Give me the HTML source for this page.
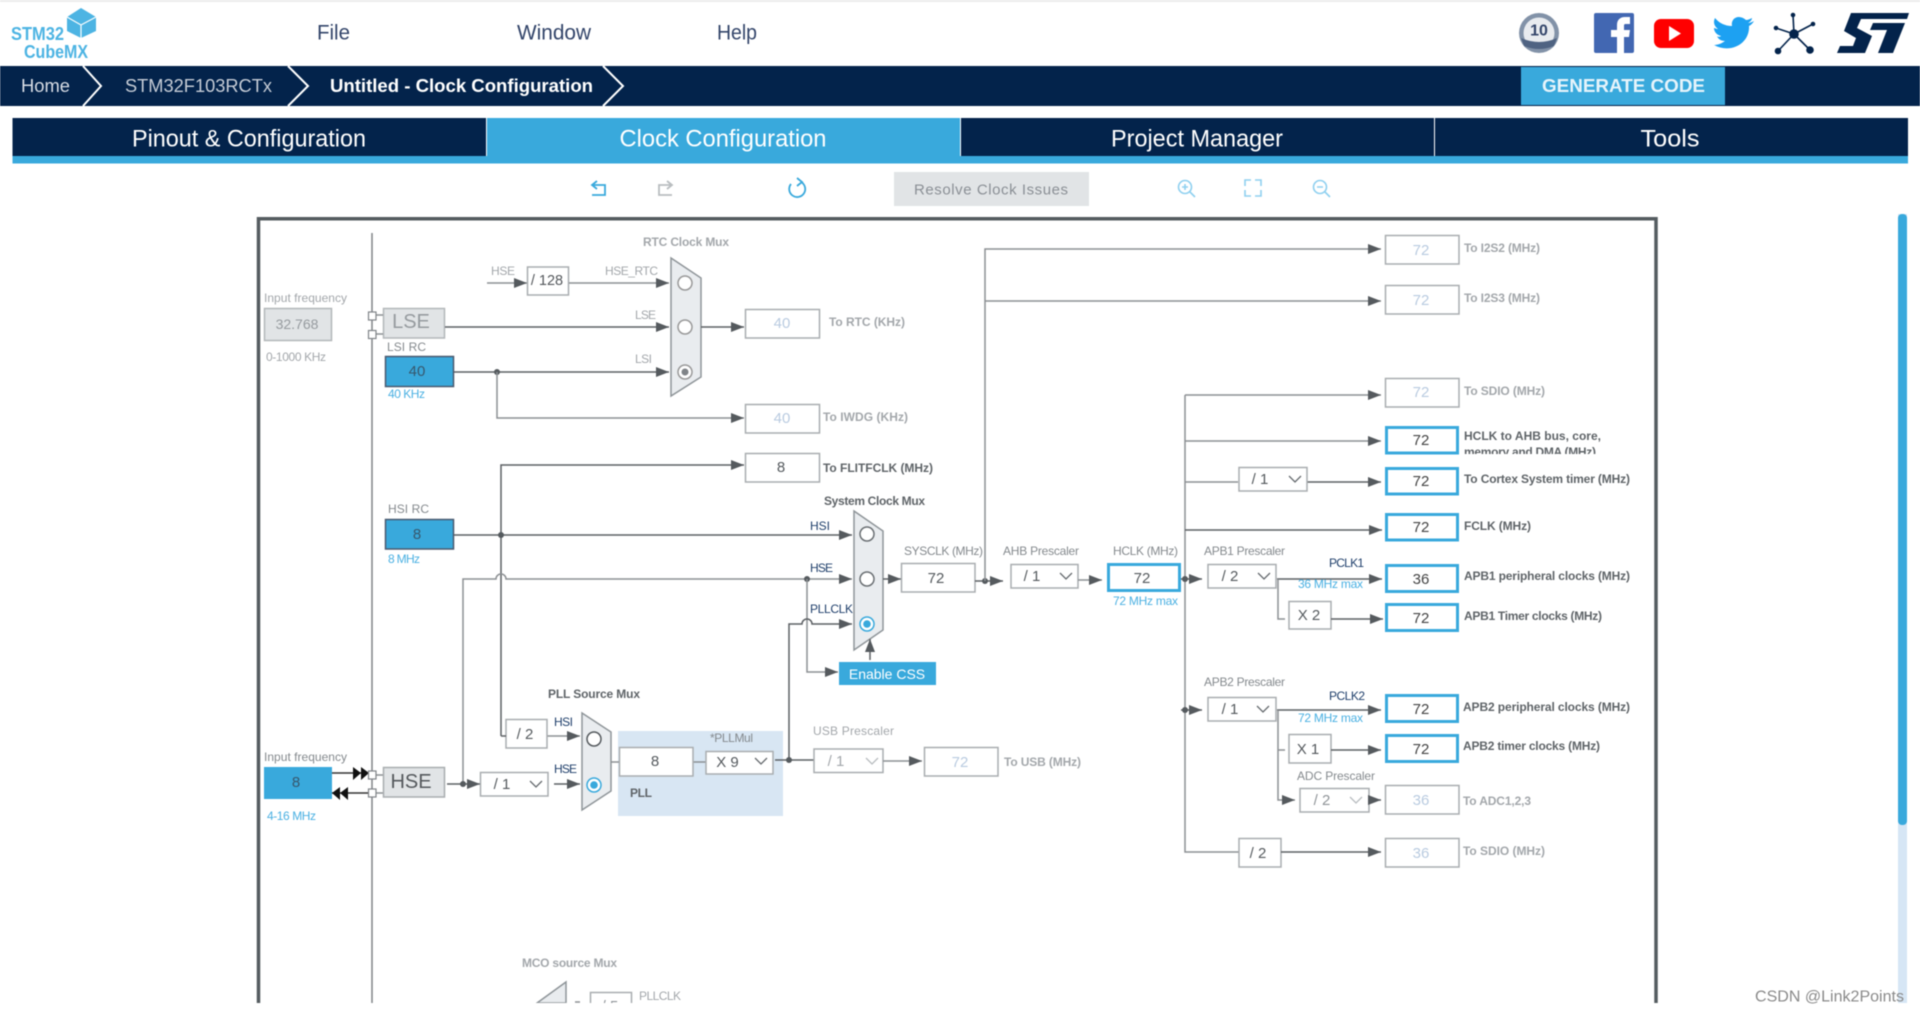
<!DOCTYPE html>
<html lang="en"><head><meta charset="utf-8"><title>STM32CubeMX Clock Configuration</title>
<style>
html,body{margin:0;padding:0;background:#fff;width:1920px;height:1013px;overflow:hidden}
svg{display:block;font-family:"Liberation Sans",Arial,sans-serif;filter:blur(.45px)}
text{dominant-baseline:central}
.l{font-size:12px;fill:#a3a7ab}
.lb{font-size:12px;fill:#a3a7ab;font-weight:bold}
.d{font-size:12px;fill:#5f6468;font-weight:bold}
.g{font-size:12px;fill:#858a8e}
.n{font-size:12px;fill:#1f3f6b}
.c{font-size:12px;fill:#4ab0e2}
.v{font-size:15px;fill:#555a5e;text-anchor:middle;transform:translateY(.7px)}
.o{font-size:15px;fill:#b9cbe0;text-anchor:middle;transform:translateY(.7px)}
.b{fill:#fff;stroke:#a9adb0;stroke-width:1.5}
.h{fill:#fff;stroke:#39a9dc;stroke-width:3}
.s{fill:#39a9dc;stroke:#4a5a70;stroke-width:1.5}
.w{fill:none;stroke:#8c9093;stroke-width:1.5}
.x{fill:none;stroke:#5c6064;stroke-width:1.5}
.m{fill:#e9ecef;stroke:#8f9599;stroke-width:1.5}
.r{fill:#fff;stroke:#7a7f83;stroke-width:1.5}
.ch{fill:none;stroke:#666b6f;stroke-width:1.3}
.dot{fill:#555a5e}
.t{font-size:24px;fill:#fff;text-anchor:middle}
.tb{fill:none;stroke:#8fd0f0;stroke-width:1.6}
</style></head><body>
<svg width="1920" height="1013" viewBox="0 0 1920 1013" xmlns="http://www.w3.org/2000/svg">
<defs>
<marker id="a" markerUnits="userSpaceOnUse" markerWidth="13" markerHeight="10" refX="13" refY="5" orient="auto"><path d="M0 0L13 5L0 10Z" fill="#555a5e"/></marker>
</defs>
<rect width="1920" height="1013" fill="#fff"/>
<rect width="1920" height="2" fill="#ececec"/>

<!-- Logo -->
<text x="11" y="34" font-size="18" font-weight="bold" fill="#4db4e3" textLength="53" lengthAdjust="spacingAndGlyphs">STM32</text>
<text x="24" y="52" font-size="18" font-weight="bold" fill="#4db4e3" textLength="64" lengthAdjust="spacingAndGlyphs">CubeMX</text>
<path d="M81 8L96 17V31L81 38L67 31V17Z" fill="#4db4e3"/>
<path d="M67 17L81 25L96 17M81 25V38" fill="none" stroke="#fff" stroke-width="1.2"/>

<!-- Menu -->
<text x="317" y="33" font-size="21" fill="#33456a" textLength="33" lengthAdjust="spacingAndGlyphs">File</text>
<text x="517" y="33" font-size="21" fill="#33456a" textLength="74" lengthAdjust="spacingAndGlyphs">Window</text>
<text x="717" y="33" font-size="21" fill="#33456a" textLength="40" lengthAdjust="spacingAndGlyphs">Help</text>

<!-- Icons -->
<circle cx="1539" cy="33" r="20" fill="#8292a8"/><circle cx="1539" cy="33" r="15.500" fill="#e8ebef"/>
<path d="M1521 38Q1539 46 1557 38L1554 46Q1539 52 1524 46Z" fill="#4f6382"/>
<text x="1539" y="31" font-size="16" font-weight="bold" fill="#33456a" text-anchor="middle">10</text>
<rect x="1594" y="13" width="40" height="40" rx="2" fill="#4267b2"/>
<path d="M1617 53V37H1611V30H1617V25C1617 20 1620 17 1625 17H1630V24H1626C1624 24 1624 25 1624 26V30H1630L1629 37H1624V53Z" fill="#fff"/>
<rect x="1654" y="19" width="40" height="29" rx="7" fill="#f00"/><path d="M1669 26L1681 33.500L1669 41Z" fill="#fff"/>
<path d="M1754 21C1752 22 1750 23 1748 23C1750 22 1752 20 1752 18C1750 19 1748 20 1746 20C1744 18 1741 17 1739 17C1734 17 1731 21 1732 26C1725 26 1719 23 1715 18C1713 22 1714 26 1718 29C1716 29 1715 28 1714 28C1714 32 1717 35 1721 36C1720 37 1718 37 1717 36C1718 39 1721 41 1725 41C1721 44 1717 45 1714 45C1730 54 1750 44 1749 26C1751 25 1753 23 1754 21Z" fill="#1da1f2"/>
<g stroke="#03234b" stroke-width="1.600" fill="#03234b"><path d="M1794 34L1793 15M1794 34L1813 24M1794 34L1810 50M1794 34L1778 51M1794 34L1776 28" fill="none"/><circle cx="1794" cy="34" r="4"/><circle cx="1793" cy="15" r="1.500"/><circle cx="1813" cy="24" r="1.500"/><circle cx="1810" cy="50" r="3"/><circle cx="1778" cy="51" r="2.500"/><circle cx="1776" cy="28" r="1.500"/></g>
<path d="M1851 13H1909L1907 19H1861L1857 28L1872 36L1865 53H1837L1840 46H1853L1856 38L1844 31ZM1873 23H1905L1893 53H1878L1887 30H1870Z" fill="#03234b"/>

<!-- Breadcrumb -->
<rect y="66" width="1920" height="40" fill="#03234b"/>
<path d="M83 66L101 86L83 106M288 66L308 86L288 106M603 66L623 86L603 106" fill="none" stroke="#fff" stroke-width="2"/>
<text x="21" y="86" font-size="18" fill="#d8dde5" textLength="49" lengthAdjust="spacingAndGlyphs">Home</text>
<text x="125" y="86" font-size="18" fill="#c5ccd6" textLength="147" lengthAdjust="spacingAndGlyphs">STM32F103RCTx</text>
<text x="330" y="86" font-size="18" font-weight="bold" fill="#fff" textLength="263" lengthAdjust="spacingAndGlyphs">Untitled - Clock Configuration</text>
<rect x="1521" y="67" width="204" height="38" fill="#39a9dc"/>
<text x="1542" y="86" font-size="18" font-weight="bold" fill="#e6f4fb" textLength="163" lengthAdjust="spacingAndGlyphs">GENERATE CODE</text>

<!-- Tabs -->
<rect x="12.500" y="118" width="1895.500" height="38" fill="#03234b"/>
<rect x="486" y="118" width="474" height="38" fill="#39a9dc"/>
<rect x="12.500" y="156" width="1895.500" height="7.500" fill="#39a9dc"/>
<rect x="486" y="118" width="1" height="38" fill="#fff"/><rect x="960" y="118" width="1" height="38" fill="#fff"/><rect x="1434" y="118" width="1" height="38" fill="#fff"/>
<text class="t" x="249" y="139" textLength="234" lengthAdjust="spacingAndGlyphs">Pinout &amp; Configuration</text>
<text class="t" x="723" y="139" textLength="207" lengthAdjust="spacingAndGlyphs">Clock Configuration</text>
<text class="t" x="1197" y="139" textLength="172" lengthAdjust="spacingAndGlyphs">Project Manager</text>
<text class="t" x="1670" y="139" textLength="59" lengthAdjust="spacingAndGlyphs">Tools</text>

<!-- Toolbar -->
<path d="M592 195H605V185H593M597 181L592 185L597 189" fill="none" stroke="#39a9dc" stroke-width="1.800"/>
<path d="M672 195H659V185H671M667 181L672 185L667 189" fill="none" stroke="#b9bdc0" stroke-width="1.800"/>
<path d="M791 184A8 8 0 1 0 801 182M797 178L802 182L797 186" fill="none" stroke="#39a9dc" stroke-width="1.800"/>
<rect x="894" y="172" width="195" height="34" fill="#e1e4e6"/>
<text x="914" y="190" font-size="15" fill="#8a8f95" textLength="154">Resolve Clock Issues</text>
<circle cx="1185" cy="187" r="6.500" class="tb"/><path d="M1190 192L1195 197M1182 187H1188M1185 184V190" class="tb"/>
<path d="M1245 186V180H1251M1255 180H1261V186M1261 190V196H1255M1251 196H1245V190" class="tb"/>
<circle cx="1320" cy="187" r="6.500" class="tb"/><path d="M1325 192L1330 197M1317 187H1323" class="tb"/>

<!-- Scrollbar -->
<rect x="1898" y="214" width="9" height="789" fill="#d6e6f5"/>
<rect x="1898" y="214" width="9" height="611" rx="4" fill="#39a9dc"/>

<!-- Frame and main rail -->
<path d="M258.500 1003V218.700H1656V1003" fill="none" stroke="#555c60" stroke-width="3.500"/>
<path d="M372 233V1003" fill="none" stroke="#808488" stroke-width="1.500"/>

<!-- Left inputs -->
<text class="l" x="264" y="298" textLength="83">Input frequency</text>
<rect x="264.500" y="308.500" width="67" height="32" fill="#e1e4e6" stroke="#b3b7ba" stroke-width="1.500"/>
<text x="297" y="324" font-size="14" fill="#969b9f" text-anchor="middle">32.768</text>
<text class="l" x="266" y="357" textLength="60">0-1000 KHz</text>
<rect x="383.500" y="308.500" width="61" height="29.500" fill="#e1e4e6" stroke="#b3b7ba" stroke-width="1.500"/>
<text x="411" y="322" font-size="20" fill="#969b9f" text-anchor="middle">LSE</text>
<path d="M376 315H383M376 334H383" class="w"/>
<rect x="368.500" y="312" width="7.500" height="8" fill="#fff" stroke="#808488" stroke-width="1.200"/>
<rect x="368.500" y="330.500" width="7.500" height="8" fill="#fff" stroke="#808488" stroke-width="1.200"/>
<text class="g" x="387" y="347" textLength="39">LSI RC</text>
<rect class="s" x="385.500" y="356.500" width="68" height="30"/>
<text class="v" x="417" y="371" style="fill:#37586e">40</text>
<text class="c" x="388" y="394" textLength="37">40 KHz</text>
<text class="g" x="388" y="509" textLength="41">HSI RC</text>
<rect class="s" x="385.500" y="519.500" width="68" height="29.500"/>
<text class="v" x="417" y="534" style="fill:#37586e">8</text>
<text class="c" x="388" y="559" textLength="32">8 MHz</text>

<!-- RTC mux -->
<text class="lb" x="643" y="242" textLength="86">RTC Clock Mux</text>
<text class="l" x="491" y="271" textLength="24">HSE</text>
<path d="M487 283H527" class="w" marker-end="url(#a)"/>
<rect class="b" x="527.500" y="267" width="41" height="28"/>
<text x="547" y="281" font-size="14.500" fill="#55595d" text-anchor="middle">/ 128</text>
<path d="M569 283H669" class="w" marker-end="url(#a)"/>
<text class="l" x="605" y="271" textLength="53">HSE_RTC</text>
<text class="l" x="635" y="315" textLength="21">LSE</text>
<path d="M445 327H669" class="x" marker-end="url(#a)"/>
<text class="l" x="635" y="359" textLength="17">LSI</text>
<path d="M454 372H669" class="x" marker-end="url(#a)"/>
<circle class="dot" cx="497" cy="372" r="3"/>
<path d="M497 372V418H744" class="w" marker-end="url(#a)"/>
<path class="m" d="M671 258L701 278V377L671 396Z"/>
<circle cx="685" cy="283" r="7" fill="#fff" stroke="#999" stroke-width="1.500"/>
<circle cx="685" cy="327" r="7" fill="#fff" stroke="#999" stroke-width="1.500"/>
<circle cx="685" cy="372" r="7" fill="#fff" stroke="#999" stroke-width="1.500"/><circle cx="685" cy="372" r="3.500" fill="#808488"/>
<path d="M701 327H744" class="x" marker-end="url(#a)"/>
<rect class="b" x="745.500" y="309.500" width="74" height="28.500"/><text class="o" x="782" y="323">40</text>
<text class="lb" x="829" y="322" textLength="76">To RTC (KHz)</text>
<rect class="b" x="745.500" y="404.500" width="74" height="28.500"/><text class="o" x="782" y="418">40</text>
<text class="lb" x="823" y="417" textLength="85">To IWDG (KHz)</text>
<path d="M501 736V465H744" class="x" marker-end="url(#a)"/>
<rect class="b" x="745.500" y="453.500" width="74" height="28.500"/><text class="v" x="781" y="467">8</text>
<text class="d" x="823" y="468" textLength="110">To FLITFCLK (MHz)</text>

<!-- System clock paths -->
<path d="M454 535H852" class="x" marker-end="url(#a)"/>
<circle class="dot" cx="501" cy="535" r="3"/>
<path d="M463 784V579H496A5 5 0 0 1 506 579H852" class="w" marker-end="url(#a)"/>
<text class="n" x="810" y="526" textLength="20">HSI</text>
<text class="n" x="810" y="568" textLength="23">HSE</text>
<text class="n" x="810" y="609" textLength="43">PLLCLK</text>
<circle class="dot" cx="807" cy="579" r="3"/>
<path d="M807 579V672H838" class="w" marker-end="url(#a)"/>
<path d="M789 760V624H802A5 5 0 0 1 812 624H852" class="x" marker-end="url(#a)"/>
<text class="d" x="824" y="501" textLength="101">System Clock Mux</text>
<path class="m" d="M854 511L883 531V630L854 650Z"/>
<circle cx="867" cy="534" r="7" fill="#fff" stroke="#6a6f73" stroke-width="1.500"/>
<circle cx="867" cy="579" r="7" fill="#fff" stroke="#6a6f73" stroke-width="1.500"/>
<circle cx="867" cy="624" r="7" fill="#fff" stroke="#39a9dc" stroke-width="1.500"/><circle cx="867" cy="624" r="3.800" fill="#39a9dc"/>
<rect x="839" y="662" width="97" height="23" fill="#39a9dc"/>
<text x="887" y="674" font-size="14" fill="#fff" text-anchor="middle">Enable CSS</text>
<path d="M870 660V639" class="x" marker-end="url(#a)"/>
<path d="M883 579H901" class="x" marker-end="url(#a)"/>

<text class="g" x="904" y="551" textLength="79">SYSCLK (MHz)</text>
<rect class="b" x="901.500" y="563.500" width="73.500" height="28.500"/><text class="v" x="936" y="578">72</text>
<path d="M975 581H1003" class="x" marker-end="url(#a)"/>
<circle class="dot" cx="985" cy="581" r="3"/>
<path d="M985 581V249H1381" class="w" marker-end="url(#a)"/>
<path d="M985 301H1381" class="w" marker-end="url(#a)"/>
<text class="g" x="1003" y="551" textLength="76">AHB Prescaler</text>
<rect class="b" x="1011" y="564.500" width="67" height="23.500"/>
<text class="v" x="1032" y="576">/ 1</text><path class="ch" d="M1060 573L1066 579L1072 573"/>
<path d="M1078 580H1102" class="w" marker-end="url(#a)"/>
<text class="g" x="1113" y="551" textLength="65">HCLK (MHz)</text>
<rect class="h" x="1108.500" y="564.500" width="71" height="26"/><text class="v" x="1142" y="578">72</text>
<text class="c" x="1113" y="601" textLength="65">72 MHz max</text>

<!-- Right bus -->
<path d="M1185 395V852H1239" class="w"/>
<path d="M1181 579H1202" class="x" marker-end="url(#a)"/><circle class="dot" cx="1185" cy="579" r="3"/>
<path d="M1181 710H1202" class="x" marker-end="url(#a)"/><circle class="dot" cx="1185" cy="710" r="3"/>
<path d="M1185 395H1381" class="w" marker-end="url(#a)"/>
<path d="M1185 441H1381" class="w" marker-end="url(#a)"/>
<path d="M1185 482H1238" class="w"/>
<path d="M1307 482H1381" class="x" marker-end="url(#a)"/>
<path d="M1185 530H1382" class="x" marker-end="url(#a)"/>

<rect class="b" x="1385.500" y="235.500" width="73.500" height="28.500"/><text class="o" x="1421" y="250">72</text>
<text class="lb" x="1464" y="248" textLength="76">To I2S2 (MHz)</text>
<rect class="b" x="1385.500" y="285.500" width="73.500" height="28.500"/><text class="o" x="1421" y="300">72</text>
<text class="lb" x="1464" y="298" textLength="76">To I2S3 (MHz)</text>
<rect class="b" x="1385.500" y="378.500" width="73.500" height="28.500"/><text class="o" x="1421" y="392">72</text>
<text class="lb" x="1464" y="391" textLength="81">To SDIO (MHz)</text>

<text class="d" x="1464" y="436" textLength="137">HCLK to AHB bus, core,</text>
<text class="d" x="1464" y="452" textLength="132">memory and DMA (MHz)</text>
<rect x="1462" y="454" width="160" height="9" fill="#fff"/>
<rect class="h" x="1386.500" y="427.500" width="71" height="25.500"/><text class="v" x="1421" y="440" style="fill:#444">72</text>

<rect class="b" x="1239" y="467.500" width="68" height="23.500"/><text class="v" x="1260" y="479">/ 1</text><path class="ch" d="M1289 476L1295 482L1301 476"/>
<rect class="h" x="1386.500" y="468.500" width="71" height="25.500"/><text class="v" x="1421" y="481" style="fill:#444">72</text>
<text class="d" x="1464" y="479" textLength="166">To Cortex System timer (MHz)</text>
<rect class="h" x="1386.500" y="514.500" width="71" height="25.500"/><text class="v" x="1421" y="527" style="fill:#444">72</text>
<text class="d" x="1464" y="526" textLength="67">FCLK (MHz)</text>

<!-- APB1 -->
<text class="g" x="1204" y="551" textLength="81">APB1 Prescaler</text>
<rect class="b" x="1208" y="564.500" width="68" height="23.500"/><text class="v" x="1230" y="576">/ 2</text><path class="ch" d="M1258 573L1264 579L1270 573"/>
<path d="M1277 579H1382" class="x" marker-end="url(#a)"/>
<path d="M1278 579V619H1285" class="w"/>
<text class="n" x="1329" y="563" textLength="35">PCLK1</text>
<text class="c" x="1298" y="584" textLength="65">36 MHz max</text>
<rect class="b" x="1289" y="601.500" width="42" height="27.500"/><text class="v" x="1309" y="615">X 2</text>
<path d="M1331 619H1383" class="x" marker-end="url(#a)"/>
<rect class="h" x="1386.500" y="565.500" width="71" height="26"/><text class="v" x="1421" y="579" style="fill:#444">36</text>
<text class="d" x="1464" y="576" textLength="166">APB1 peripheral clocks (MHz)</text>
<rect class="h" x="1386.500" y="604.500" width="71" height="26"/><text class="v" x="1421" y="618" style="fill:#444">72</text>
<text class="d" x="1464" y="616" textLength="138">APB1 Timer clocks (MHz)</text>

<!-- APB2 -->
<text class="g" x="1204" y="682" textLength="81">APB2 Prescaler</text>
<rect class="b" x="1208" y="697.500" width="68" height="23.500"/><text class="v" x="1230" y="709">/ 1</text><path class="ch" d="M1257 706L1263 712L1269 706"/>
<path d="M1277 710H1381" class="x" marker-end="url(#a)"/>
<path d="M1278 710V800H1295" class="w" marker-end="url(#a)"/><path d="M1278 750H1285" class="w"/>
<text class="n" x="1329" y="696" textLength="36">PCLK2</text>
<text class="c" x="1298" y="718" textLength="65">72 MHz max</text>
<rect class="b" x="1289" y="734.500" width="42" height="28.500"/><text class="v" x="1308" y="749">X 1</text>
<path d="M1331 750H1381" class="x" marker-end="url(#a)"/>
<rect class="h" x="1386.500" y="695.500" width="71" height="26"/><text class="v" x="1421" y="709" style="fill:#444">72</text>
<text class="d" x="1463" y="707" textLength="167">APB2 peripheral clocks (MHz)</text>
<rect class="h" x="1386.500" y="735.500" width="71" height="26"/><text class="v" x="1421" y="749" style="fill:#444">72</text>
<text class="d" x="1463" y="746" textLength="137">APB2 timer clocks (MHz)</text>
<text class="g" x="1297" y="776" textLength="78">ADC Prescaler</text>
<rect class="b" x="1300" y="788.500" width="69" height="23.500"/><text class="v" x="1322" y="800" style="fill:#8f9498">/ 2</text><path class="ch" d="M1350 797L1356 803L1362 797" style="stroke:#b9bdc0"/>
<path d="M1369 800H1381" class="x" marker-end="url(#a)"/>
<rect class="b" x="1385.500" y="785.500" width="73.500" height="28.500"/><text class="o" x="1421" y="800">36</text>
<text class="lb" x="1463" y="801" textLength="68">To ADC1,2,3</text>
<rect class="b" x="1239" y="838.500" width="42" height="28.500"/><text class="v" x="1258" y="853">/ 2</text>
<path d="M1281 852H1381" class="x" marker-end="url(#a)"/>
<rect class="b" x="1385.500" y="838.500" width="73.500" height="28.500"/><text class="o" x="1421" y="853">36</text>
<text class="lb" x="1463" y="851" textLength="82">To SDIO (MHz)</text>

<!-- PLL area -->
<rect x="618" y="731" width="165" height="85" fill="#d8e6f3"/>
<text class="d" x="548" y="694" textLength="92">PLL Source Mux</text>
<text class="n" x="554" y="722" textLength="19">HSI</text>
<text class="n" x="554" y="769" textLength="23">HSE</text>
<path d="M547 736H580" class="w" marker-end="url(#a)"/>
<path d="M554 784H580" class="x" marker-end="url(#a)"/>
<rect class="b" x="506" y="719.500" width="41" height="28.500"/><text class="v" x="525" y="734">/ 2</text>
<path d="M501 736H506" class="x"/>
<path class="m" d="M582 713L611 732V791L582 810Z"/>
<circle cx="594" cy="739" r="7" fill="#fff" stroke="#555a5e" stroke-width="1.500"/>
<circle cx="594" cy="785" r="7" fill="#fff" stroke="#39a9dc" stroke-width="1.500"/><circle cx="594" cy="785" r="3.800" fill="#39a9dc"/>
<path d="M611 762H619M693 762H706" class="w"/>
<rect class="b" x="619.500" y="747.500" width="73.500" height="28.500"/><text class="v" x="655" y="761">8</text>
<text class="g" x="710" y="738" textLength="43">*PLLMul</text>
<rect class="b" x="706" y="751.500" width="67" height="22.500"/><text class="v" x="727.500" y="762">X 9</text><path class="ch" d="M755 758L761 764L767 758"/>
<text class="d" x="630" y="793" textLength="22">PLL</text>
<path d="M775 760H814" class="x"/><circle class="dot" cx="789" cy="760" r="3"/>
<text class="l" x="813" y="731" textLength="81">USB Prescaler</text>
<rect class="b" x="814" y="749" width="69" height="23.500"/><text class="v" x="836" y="761" style="fill:#a3a7ab">/ 1</text><path class="ch" d="M866 758L872 764L878 758" style="stroke:#b9bdc0"/>
<path d="M883 761H922" class="w" marker-end="url(#a)"/>
<rect class="b" x="924.500" y="747.500" width="73.500" height="28.500"/><text class="o" x="960" y="762">72</text>
<text class="lb" x="1004" y="762" textLength="77">To USB (MHz)</text>

<!-- HSE input -->
<text class="g" x="264" y="757" textLength="83">Input frequency</text>
<rect x="264" y="767" width="68" height="32" fill="#39a9dc"/>
<text class="v" x="296" y="782" style="fill:#37586e">8</text>
<text class="c" x="267" y="816" textLength="49">4-16 MHz</text>
<path d="M332 773H368M332 793H368" fill="none" stroke="#333" stroke-width="1.500"/>
<path d="M353 767L361 773L353 780ZM361 767L369 773L361 780Z" fill="#111"/>
<path d="M340 787L332 793L340 800ZM348 787L340 793L348 800Z" fill="#111"/>
<path d="M376 775H383M376 793H383" class="w"/>
<rect x="368.500" y="771" width="7.500" height="8" fill="#fff" stroke="#808488" stroke-width="1.200"/>
<rect x="368.500" y="789" width="7.500" height="8" fill="#fff" stroke="#808488" stroke-width="1.200"/>
<rect x="383.500" y="767.500" width="61" height="29.500" fill="#e1e4e6" stroke="#a9adb0" stroke-width="1.500"/>
<text x="411" y="782" font-size="20" fill="#55595d" text-anchor="middle">HSE</text>
<path d="M447 784H480" class="x" marker-end="url(#a)"/><circle class="dot" cx="463" cy="784" r="3"/>
<rect class="b" x="480.500" y="772.500" width="67.500" height="23.500"/><text class="v" x="502" y="784">/ 1</text><path class="ch" d="M530 781L536 787L542 781"/>

<!-- MCO -->
<text class="lb" x="522" y="963" textLength="95">MCO source Mux</text>
<path class="m" d="M537 1003L566 982V1003Z" style="fill:#e9ecef"/>
<circle cx="555" cy="1010" r="6" fill="#fff" stroke="#999" stroke-width="1.300"/>
<rect class="b" x="590.500" y="992.500" width="41" height="20"/>
<text class="v" x="610" y="1006" style="fill:#8f9498">/ 5</text>
<text class="l" x="639" y="996" textLength="42">PLLCLK</text>
<path d="M575 1002H580" class="w"/>

<!-- Bottom crop -->
<rect x="0" y="1003" width="1920" height="10" fill="#fff"/>
<text x="1755" y="997" font-size="16" fill="#8a8a8a" textLength="149" lengthAdjust="spacingAndGlyphs">CSDN @Link2Points</text>
</svg>
</body></html>
